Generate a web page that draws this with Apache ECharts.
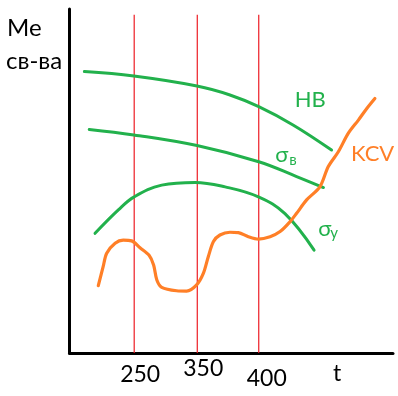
<!DOCTYPE html>
<html><head><meta charset="utf-8">
<script src="https://cdn.jsdelivr.net/npm/echarts@6/dist/echarts.min.js"></script>
<style>html,body{margin:0;padding:0;background:#fff}#c{width:398px;height:396px}</style>
</head><body><div id="c"></div>
<script>
// Schematic units: x 0..100 (temperature direction), y 0..100 (property level)
const tickLabels = ['250', '350', '400'];
const tickValues = [20.0, 39.5, 58.5];
const redLineTop = 98.3;

const hbCurve = [[4.6,81.8],[19.9,80.5],[39.4,77.6],[49.6,75.0],[58.5,71.6],[69.1,66.3],[81.0,59.0]];
const sigmaBCurve = [[6.1,65.0],[19.9,63.4],[39.4,60.3],[58.5,55.6],[70.2,51.3],[78.5,48.1]];
const sigmaYCurve = [[7.9,34.8],[15.1,41.6],[20.0,45.4],[28.5,48.8],[38.8,49.6],[48.1,48.3],[58.4,45.4],[66.6,40.5],[75.6,29.9]];
const kcvCurve = [[8.9,19.6],[10.4,25.1],[11.5,29.0],[14.1,31.9],[16.6,32.8],[19.2,32.6],[21.8,30.6],[24.6,28.4],
  [26.0,25.6],[27.0,21.2],[28.5,19.1],[33.1,18.1],[36.2,18.0],[39.3,19.8],[41.4,23.2],[42.9,28.0],[44.5,32.4],
  [46.5,34.3],[49.6,35.1],[52.2,35.0],[55.3,33.8],[58.4,33.1],[62.0,33.8],[65.1,35.3],[68.2,38.2],[70.2,40.6],
  [73.3,44.5],[77.4,48.3],[80.0,54.2],[83.1,58.5],[86.2,63.9],[89.3,67.7],[91.9,71.1],[94.4,74.0]];

const GREEN = '#22b14c', ORANGE = '#ff7f27', RED = '#ed1c24';
const FONT = 'Lato, "Noto Sans", sans-serif';

const chart = echarts.init(document.getElementById('c'), null, {renderer: 'canvas'});

const redSeries = tickValues.map(v => ({
  type: 'line', data: [[v, 0], [v, redLineTop]], symbol: 'none', silent: true,
  lineStyle: {color: RED, width: 1.2}, z: 1
}));
function curve(data, color, width, smooth) {
  return {type: 'line', data, symbol: 'none', smooth, silent: true,
    lineStyle: {color, width, cap: 'round', join: 'round'}, z: 3};
}

chart.setOption({
  animation: false,
  backgroundColor: '#fff',
  grid: {left: 69.5, top: 9, width: 323.5, height: 344},
  xAxis: {type: 'value', min: 0, max: 100, splitLine: {show: false}, axisTick: {show: false},
    axisLabel: {show: false}, axisLine: {show: true, onZero: false, lineStyle: {color: '#000', width: 3}}},
  yAxis: {type: 'value', min: 0, max: 100, splitLine: {show: false}, axisTick: {show: false},
    axisLabel: {show: false}, axisLine: {show: true, onZero: false, lineStyle: {color: '#000', width: 3}}},
  series: [
    ...redSeries,
    curve(hbCurve, GREEN, 3, 0.4),
    curve(sigmaBCurve, GREEN, 3, 0.4),
    curve(sigmaYCurve, GREEN, 3, 0.4),
    curve(kcvCurve, ORANGE, 3.2, 0.3)
  ]
});

const px = (x, y) => chart.convertToPixel({gridIndex: 0}, [x, y]);
// text placed by its baseline (top-aligned text box shifted up by ~0.86 em)
function txt(text, x, baseline, size, color, align) {
  return {type: 'text', x, y: baseline - 0.86 * size, silent: true, z: 10,
    style: {text, fill: color, fontSize: size, fontFamily: FONT, align: align || 'left', verticalAlign: 'top'}};
}
// tick label layout offsets (pixels) relative to tick positions
const tickDx = [6, 6, 8];
const tickBaseline = [383.3, 376.7, 386.7];
const g = [];
tickLabels.forEach((t, i) => {
  const p = px(tickValues[i], 0);
  g.push(txt(t, p[0] + tickDx[i], tickBaseline[i], 23, '#000', 'center'));
});
g.push(txt('t', px(82.7, 0)[0], 381.7, 23, '#000', 'center'));
g.push(txt('Ме', 7, 36.7, 24, '#000'));
g.push(txt('св-ва', 6, 70, 24, '#000'));
const hb = px(74.4, 71.8); g.push(txt('HB', hb[0], 108.3, 22, GREEN, 'center'));
const kc = px(93.7, 55.6); g.push(txt('KCV', kc[0], 161.7, 22, ORANGE, 'center'));
const sb = px(63.6, 55.1); g.push(txt('σ', sb[0], 162.7, 22, GREEN)); g.push(txt('в', sb[0] + 14, 166, 15, GREEN));
const sy = px(76.9, 33.9); g.push(txt('σ', sy[0], 236.7, 22, GREEN)); g.push(txt('у', sy[0] + 12, 238.5, 15, GREEN));
chart.setOption({graphic: g});
</script></body></html>
